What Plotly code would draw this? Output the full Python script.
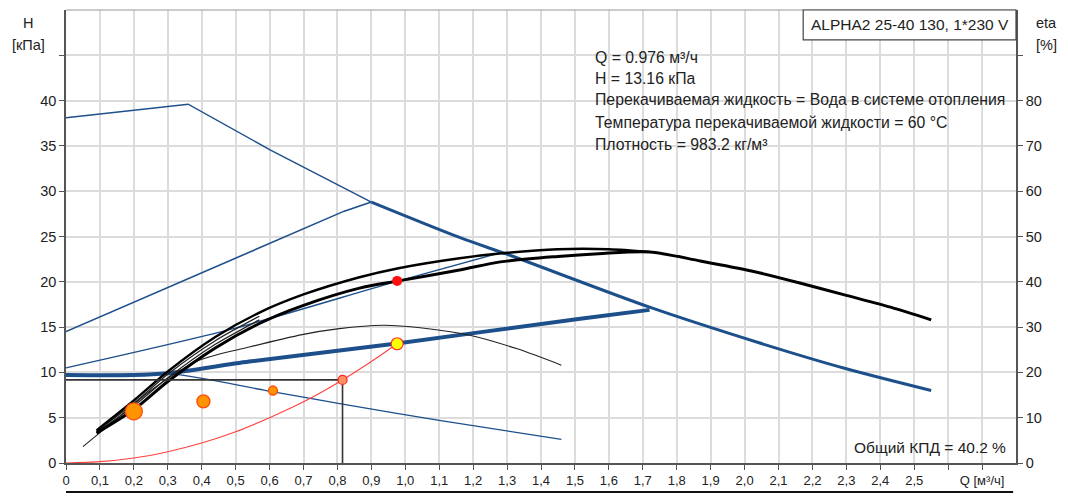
import plotly.graph_objects as go

# ---- pump curves, Q [m3/h] vs H [kPa] ----
max_q = [0, 0.36, 0.6, 0.9]
max_h = [38.1, 39.6, 34.6, 28.8]
max_tail_q = [0.9, 1.16, 1.31, 1.72, 2.04, 2.3, 2.55]
max_tail_h = [28.8, 24.9, 22.9, 17.2, 13.3, 10.4, 8.0]

cp_high_q = [0, 0.82, 0.9]
cp_high_h = [14.5, 27.8, 28.8]

pp_q = [0, 0.49, 0.98, 1.28]
pp_h = [10.5, 14.8, 20.1, 23.2]

cp_low_q = [0, 0.2, 0.3, 0.54, 0.975, 1.51, 1.72]
cp_low_h = [9.7, 9.7, 9.9, 11.2, 13.2, 15.9, 16.9]

min_q = [0, 0.2, 0.32, 0.59, 0.815, 1.1, 1.46]
min_h = [9.7, 9.8, 9.8, 8.0, 6.5, 4.7, 2.6]

eff_q = [0.05, 0.15, 0.25, 0.39, 0.54, 0.7, 0.8, 0.935, 1.05, 1.19, 1.33, 1.46]
eff_h = [1.8, 4.9, 8.0, 11.3, 12.8, 14.2, 14.8, 15.2, 14.9, 14.1, 12.6, 10.8]

auto_up_q = [0.09, 0.2, 0.3, 0.44, 0.57, 0.7, 0.865, 0.98, 1.16, 1.3, 1.45, 1.6, 1.72]
auto_up_h = [3.6, 6.9, 10.1, 13.9, 16.6, 18.6, 20.5, 21.5, 22.6, 23.2, 23.6, 23.6, 23.3]
auto_b1_q = [0.09, 0.2, 0.3, 0.44, 0.57]
auto_b1_h = [3.5, 6.6, 9.8, 13.5, 16.2]
auto_b2_q = [0.09, 0.2, 0.3, 0.44, 0.57]
auto_b2_h = [3.4, 6.3, 9.4, 13.1, 15.8]
auto_lo_q = [0.09, 0.2, 0.3, 0.44, 0.57, 0.7, 0.865, 0.98, 1.16, 1.28, 1.45, 1.57,
             1.72, 1.87, 2.02, 2.16, 2.3, 2.43, 2.55]
auto_lo_h = [3.3, 5.9, 9.0, 12.7, 15.4, 17.4, 19.3, 20.1, 21.3, 22.2, 22.8, 23.1,
             23.3, 22.3, 21.2, 19.9, 18.5, 17.2, 15.8]

# system curve
sys_q = [0, 0.1, 0.2, 0.3, 0.4, 0.5, 0.6, 0.7, 0.815, 0.9, 0.976]
sys_h = [0, 0.15, 0.55, 1.25, 2.2, 3.45, 5.0, 6.75, 9.17, 11.2, 13.16]

# operating points
duty_q, duty_h = 0.976, 13.16
curve_pt_q, curve_pt_h = 0.976, 20.1
ref_q, ref_h = 0.815, 9.17
orange_q = [0.2, 0.405, 0.61]
orange_h = [5.7, 6.8, 8.0]
orange_size = [17, 13, 9]

# axis ticks
x_ticks = [round(i * 0.1, 1) for i in range(28)]
x_labels = [("0" if v == 0 else f"{v:.1f}".replace(".", ",")) for v in x_ticks[:26]] + ["", "Q [м³/ч]"]
h_ticks = list(range(0, 50, 5))
h_labels = [str(v) for v in h_ticks[:-1]] + [""]
eta_ticks = list(range(0, 100, 10))
eta_labels = [str(v) for v in eta_ticks[:-1]] + [""]

BLUE = "#1d4f8b"
FONT = "Liberation Sans, Arial, sans-serif"
TXT = "#222222"

fig = go.Figure()


def line(q, h, color, width, shape="linear"):
    fig.add_trace(go.Scatter(x=q, y=h, mode="lines", hoverinfo="skip",
                             line=dict(color=color, width=width, shape=shape,
                                       smoothing=0.8)))


line(max_q, max_h, BLUE, 1.4)
line(max_tail_q, max_tail_h, BLUE, 3, "spline")
line(cp_high_q, cp_high_h, BLUE, 1.6)
line(pp_q, pp_h, BLUE, 1.4, "spline")
line(min_q, min_h, BLUE, 1.3, "spline")
line(cp_low_q, cp_low_h, BLUE, 4, "spline")
line(eff_q, eff_h, "#222222", 1.1, "spline")
line(auto_b1_q, auto_b1_h, "#222222", 1.3, "spline")
line(auto_b2_q, auto_b2_h, "#222222", 1.3, "spline")
line(auto_up_q, auto_up_h, "#000000", 2.4, "spline")
line(auto_lo_q, auto_lo_h, "#000000", 3, "spline")
line(sys_q, sys_h, "#ff4040", 1.1, "spline")

# drop lines from the reference point to the axes
line([0, ref_q, ref_q], [ref_h, ref_h, 0], "#333333", 1.6)

fig.add_trace(go.Scatter(x=orange_q, y=orange_h, mode="markers", hoverinfo="skip",
                         marker=dict(size=orange_size, color="#ff9400", opacity=1,
                                     line=dict(color="#ff4a10", width=1.3))))
fig.add_trace(go.Scatter(x=[ref_q], y=[ref_h], mode="markers", hoverinfo="skip",
                         marker=dict(size=9, color="#ff9060", opacity=1,
                                     line=dict(color="#ff2020", width=1.2))))
fig.add_trace(go.Scatter(x=[curve_pt_q], y=[curve_pt_h], mode="markers", hoverinfo="skip",
                         marker=dict(size=10, color="#ff1010", opacity=1)))
fig.add_trace(go.Scatter(x=[duty_q], y=[duty_h], mode="markers", hoverinfo="skip",
                         marker=dict(size=12, color="#ffff00", opacity=1,
                                     line=dict(color="#ff3030", width=1.2))))
# secondary axis carrier
fig.add_trace(go.Scatter(x=[None], y=[None], yaxis="y2", mode="lines",
                         hoverinfo="skip"))

axis_common = dict(showline=True, linecolor="#555555", linewidth=1.5,
                   ticks="outside", ticklen=5, tickcolor="#555555",
                   zeroline=False)

fig.update_layout(
    width=1068, height=498,
    margin=dict(l=66, r=52, t=10, b=33),
    paper_bgcolor="white", plot_bgcolor="white",
    showlegend=False,
    xaxis=dict(range=[0, 2.8], tickmode="array", tickvals=x_ticks, ticktext=x_labels,
               showgrid=True, gridcolor="#dcdcdc", gridwidth=1.5,
               tickfont=dict(family=FONT, size=13, color=TXT), **axis_common),
    yaxis=dict(range=[0, 50], tickmode="array", tickvals=h_ticks, ticktext=h_labels,
               showgrid=True, gridcolor="#dcdcdc", gridwidth=1.5,
               tickfont=dict(family=FONT, size=14.5, color=TXT), **axis_common),
    yaxis2=dict(range=[0, 100], overlaying="y", side="right", tickmode="array",
                tickvals=eta_ticks, ticktext=eta_labels, showgrid=False,
                tickfont=dict(family=FONT, size=14.5, color=TXT), **axis_common),
)

shapes = [
    # top frame
    dict(type="line", xref="paper", yref="paper", x0=0, x1=1, y0=1, y1=1,
         line=dict(color="#999999", width=1)),
    # bottom rule
    dict(type="line", xref="paper", yref="paper", x0=0, x1=0.997, y0=-0.064, y1=-0.064,
         line=dict(color="#111111", width=2)),
    # model label box
    dict(type="rect", xref="paper", yref="paper", x0=0.776, x1=1, y0=0.934, y1=1,
         fillcolor="white", line=dict(color="#444444", width=1.2), layer="above"),
    # info text background
    dict(type="rect", xref="paper", yref="paper", x0=0.553, x1=0.995, y0=0.679, y1=0.916,
         fillcolor="white", line=dict(width=0), layer="between"),
    # efficiency text background
    dict(type="rect", xref="paper", yref="paper", x0=0.823, x1=0.995, y0=0.007, y1=0.062,
         fillcolor="white", line=dict(width=0), layer="between"),
]
fig.update_layout(shapes=shapes)

ann = []


def text(s, x, y, xanchor="left", size=14):
    ann.append(dict(text=s, x=x, y=y, xref="paper", yref="paper", xanchor=xanchor,
                    yanchor="middle", showarrow=False,
                    font=dict(family=FONT, size=size, color=TXT)))


text("ALPHA2 25-40 130, 1*230 V", 0.888, 0.967, "center", 15.5)
info = ["Q = 0.976 м³/ч", "H = 13.16 кПа",
        "Перекачиваемая жидкость = Вода в системе отопления",
        "Температура перекачиваемой жидкости = 60 °C",
        "Плотность = 983.2 кг/м³"]
info_y = [0.8945, 0.8484, 0.8022, 0.7516, 0.7033]
for s, yy in zip(info, info_y):
    text(s, 0.5547, yy, "left", 15.8)
text("Общий КПД = 40.2 %", 0.9916, 0.035, "right", 15.5)
text("H", -0.04, 0.9714, "center", 14.5)
text("[кПа]", -0.04, 0.923, "center", 14.5)
text("eta", 1.0326, 0.9714, "center", 14.5)
text("[%]", 1.0326, 0.923, "center", 14.5)
fig.update_layout(annotations=ann)

fig.write_html("out.html")
